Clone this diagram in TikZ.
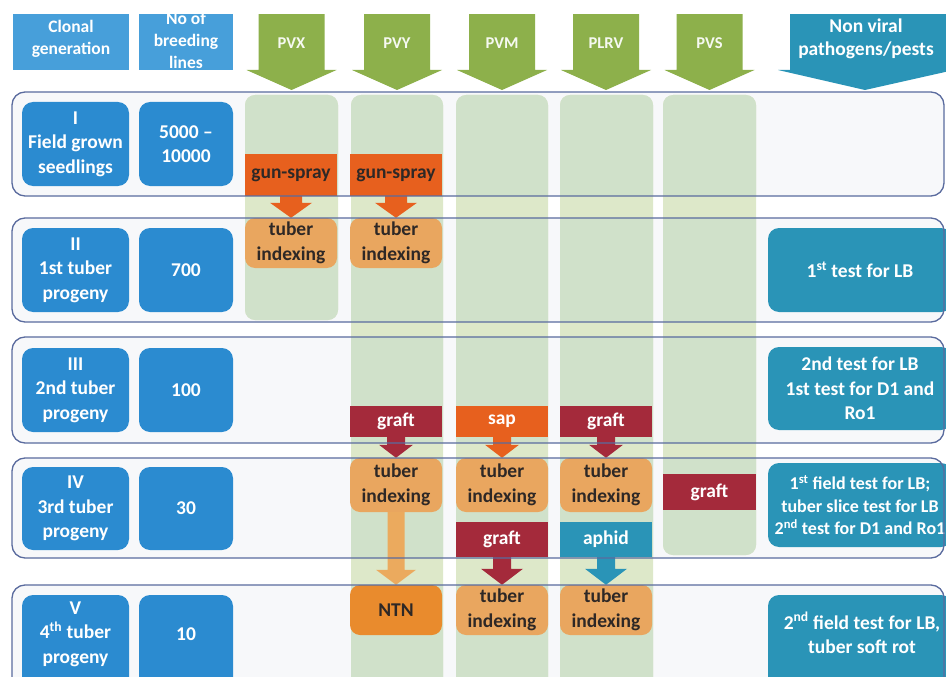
\documentclass[tikz,border=0pt]{standalone}
\usepackage{fontspec}
\setmainfont{Carlito}
\usetikzlibrary{calc}
\definecolor{hdrblue}{HTML}{479FDA}
\definecolor{rowblue}{HTML}{2B8BD0}
\definecolor{nvteal}{HTML}{2A94B7}
\definecolor{grn}{HTML}{8DB04B}
\definecolor{colA}{HTML}{DDE8C9}
\definecolor{colB}{HTML}{D0E1CA}
\definecolor{bandfill}{HTML}{F7F8FA}
\definecolor{bandline}{HTML}{5A6B9E}
\definecolor{gunor}{HTML}{E7601E}
\definecolor{tanc}{HTML}{E9A65F}
\definecolor{ntnor}{HTML}{E98B2D}
\definecolor{graftred}{HTML}{A42A3B}
\definecolor{darktext}{HTML}{2E2826}
\definecolor{lightor}{HTML}{EBAA5E}
\newcommand\placebox[7]{\node[#2, minimum width={#5-#3}, minimum height={#6-#4}] (#1) at ({(#3+#5)/2},{(#4+#6)/2}) {#7};}
\newcommand\blkarrow[6]{\fill[#3] ($(#1.south)+(-#4,0)$) -- ($(#1.south)+(#4,0)$) -- ($(#2.north)+(#4,-#6)$) -- ($(#2.north)+(#5,-#6)$) -- (#2.north) -- ($(#2.north)+(-#5,-#6)$) -- ($(#2.north)+(-#4,-#6)$) -- cycle;}
\newcommand\greenarrow[3]{\fill[grn] ({#1-33},0) -- ({#1+33},0) -- ({#1+33},70) -- ({#1+45},70) -- (#1,90) -- ({#1-45},70) -- ({#1-33},70) -- cycle;
  \node[hdrtxt] (#3) at (#1,43) {#2};}
\tikzset{
  base/.style={inner sep=0pt, align=center, font=\bfseries\fontsize{19.5}{24.5}\selectfont},
  hdr/.style={base, fill=hdrblue, text=white, font=\bfseries\fontsize{17.5}{22}\selectfont},
  hdrtxt/.style={base, text=white!92!grn, font=\bfseries\fontsize{16.5}{20}\selectfont},
  lbox/.style={base, fill=rowblue, text=white, rounded corners=11pt},
  rbox/.style={base, fill=nvteal, text=white, rounded corners=11pt},
  meth/.style={base, text=white},
  tix/.style={base, fill=tanc, text=darktext, rounded corners=10pt},
  bandpath/.style={rounded corners=13pt},
  colpath/.style={rounded corners=10pt},
}
\begin{document}
\begin{tikzpicture}[x=1pt,y=-1pt]
\useasboundingbox (0,0) rectangle (946,677);
\fill[white] (0,0) rectangle (946,677);
\clip (0,15) rectangle (946,677);
% bands (fill)
\foreach \a/\b in {92/196,218/322,337/443,458/558,585/700}
  \fill[bandfill,bandpath] (12,\a) rectangle (944,\b);
% columns
\fill[colA,colpath] (245,95) rectangle (338,320);
\fill[colA,colpath] (351,95) rectangle (443,700);
\fill[colA,colpath] (456,95) rectangle (548,700);
\fill[colA,colpath] (560,95) rectangle (653,700);
\fill[colA,colpath] (663,95) rectangle (756,555);
\begin{scope}
  \clip[bandpath] (12,92) rectangle (944,196) (12,218) rectangle (944,322) (12,337) rectangle (944,443) (12,458) rectangle (944,558) (12,585) rectangle (944,700);
  \fill[colB,colpath] (245,95) rectangle (338,320);
  \fill[colB,colpath] (351,95) rectangle (443,700);
  \fill[colB,colpath] (456,95) rectangle (548,700);
  \fill[colB,colpath] (560,95) rectangle (653,700);
  \fill[colB,colpath] (663,95) rectangle (756,555);
\end{scope}
% headers
\placebox{hcl}{hdr}{13}{8}{129}{70}{Clonal\\generation}
\placebox{hnb}{hdr}{139}{10}{233}{70}{No of\\breeding\\lines}
\greenarrow{291.5}{PVX}{hpvx}
\greenarrow{397}{PVY}{hpvy}
\greenarrow{502}{PVM}{hpvm}
\greenarrow{606}{PLRV}{hplrv}
\greenarrow{709.5}{PVS}{hpvs}
\fill[nvteal] (790,0) -- (952,0) -- (952,70) -- (954,70) -- (865,90) -- (778,70) -- (790,70) -- cycle;
\node[base, text=white, font=\bfseries\fontsize{19.5}{23}\selectfont] (hnv) at (866,39) {Non viral\\pathogens/pests};
% left boxes
\placebox{g1}{lbox}{22}{102}{129}{186}{I\\Field grown\\seedlings}
\placebox{n1}{lbox}{139}{102}{233}{186}{5000 --\\10000}
\placebox{g2}{lbox}{22}{228}{129}{312}{II\\1st tuber\\progeny}
\placebox{n2}{lbox}{139}{228}{233}{312}{700}
\placebox{g3}{lbox}{22}{348}{129}{432}{III\\2nd tuber\\progeny}
\placebox{n3}{lbox}{139}{348}{233}{432}{100}
\placebox{g4}{lbox}{22}{467}{129}{550}{IV\\3rd tuber\\progeny}
\placebox{n4}{lbox}{139}{467}{233}{550}{30}
\placebox{g5}{lbox}{22}{595}{129}{700}{}
\node[base, text=white] (g5t) at (75.5,634) {V\\4\textsuperscript{th} tuber\\progeny};
\placebox{n5}{lbox}{139}{595}{233}{700}{}
\node[base, text=white] (n5t) at (186,634) {10};
% right boxes
\placebox{v2}{rbox}{768}{228}{952}{312}{1\textsuperscript{st} test for LB}
\placebox{v3}{rbox}{768}{347}{952}{430}{2nd test for LB\\1st test for D1 and\\Ro1}
\placebox{v4}{rbox, font=\bfseries\fontsize{18}{22.5}\selectfont}{768}{463}{952}{547}{1\textsuperscript{st} field test for LB;\\tuber slice test for LB\\2\textsuperscript{nd} test for D1 and Ro1}
\placebox{v5}{rbox}{768}{595}{952}{700}{}
\node[base, text=white] (v5t) at (862,633) {2\textsuperscript{nd} field test for LB,\\tuber soft rot};
% method boxes
\placebox{gs1}{meth, fill=gunor, text=darktext}{245}{154}{337}{196}{gun-spray}
\placebox{gs2}{meth, fill=gunor, text=darktext}{350}{154}{442}{196}{gun-spray}
\placebox{ti1}{tix}{245}{218}{337}{268}{tuber\\indexing}
\placebox{ti2}{tix}{350}{218}{442}{268}{tuber\\indexing}
\placebox{gr2}{meth, fill=graftred}{350}{406}{442}{437}{graft}
\placebox{sp3}{meth, fill=gunor}{456}{406}{548}{437}{sap}
\placebox{gr4}{meth, fill=graftred}{560}{406}{652}{437}{graft}
\placebox{tj2}{tix}{350}{458}{442}{512}{tuber\\indexing}
\placebox{tj3}{tix}{456}{458}{548}{512}{tuber\\indexing}
\placebox{tj4}{tix}{560}{458}{652}{512}{tuber\\indexing}
\placebox{gr5}{meth, fill=graftred}{663}{474}{756}{510}{graft}
\placebox{gr3}{meth, fill=graftred}{456}{522}{548}{557}{graft}
\placebox{ap4}{meth, fill=nvteal}{560}{522}{652}{557}{aphid}
\placebox{ntn}{tix, fill=ntnor}{350}{585}{442}{635}{NTN}
\placebox{tk3}{tix}{456}{585}{548}{635}{tuber\\indexing}
\placebox{tk4}{tix}{560}{585}{652}{635}{tuber\\indexing}
% block arrows
\blkarrow{gs1}{ti1}{gunor}{11}{21}{15}
\blkarrow{gs2}{ti2}{gunor}{11}{21}{15}
\blkarrow{gr2}{tj2}{graftred}{9}{17}{13}
\blkarrow{sp3}{tj3}{gunor}{9}{17}{13}
\blkarrow{gr4}{tj4}{graftred}{9}{17}{13}
\blkarrow{tj2}{ntn}{lightor}{8.5}{20}{15}
\blkarrow{gr3}{tk3}{graftred}{9}{21}{16}
\blkarrow{ap4}{tk4}{nvteal}{9}{21}{16}
% band outlines
\foreach \a/\b in {92/196,218/322,337/443,458/558,585/700}
  \draw[bandline, line width=1.3pt, bandpath] (12,\a) rectangle (944,\b);
\end{tikzpicture}
\end{document}
